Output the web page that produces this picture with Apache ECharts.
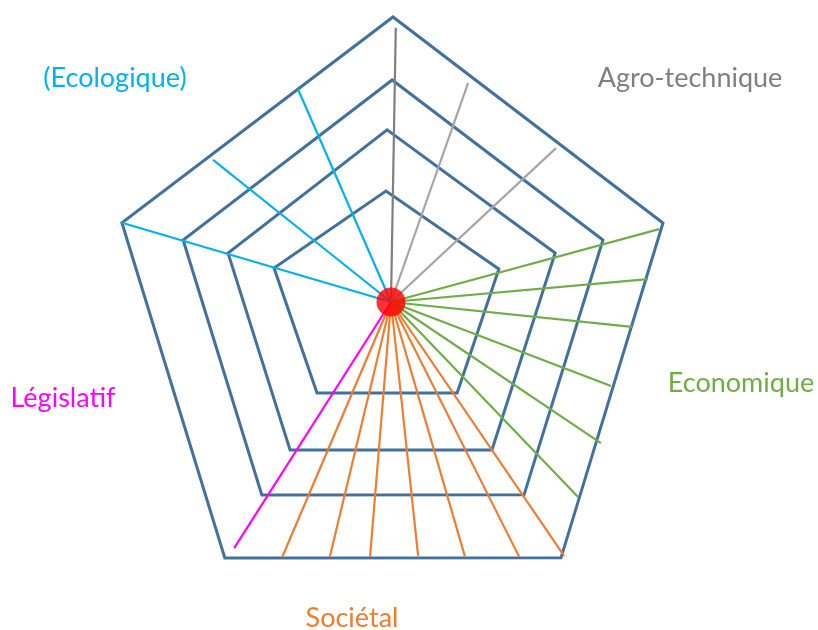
<!DOCTYPE html>
<html>
<head>
<meta charset="utf-8">
<script src="https://cdn.jsdelivr.net/npm/echarts@6/dist/echarts.min.js"></script>
<style>
  html, body { margin: 0; padding: 0; background: #ffffff; }
  #chart { width: 818px; height: 630px; }
</style>
</head>
<body>
<div id="chart"></div>
<script>
// Every point is [radius, angle]: radius in scale units, angle in degrees clockwise from the top.
const level1 = [[37.0, 357.4], [37.6, 73.0], [37.5, 144.0], [39.1, 219.1], [40.6, 286.2]];
const level2 = [[57.4, 358.7], [57.1, 73.4], [59.7, 145.7], [59.7, 214.3], [56.7, 286.7]];
const level3 = [[74.0, 0.3], [73.6, 73.7], [78.1, 145.4], [77.4, 213.8], [72.3, 286.6]];
const level4 = [[95.0, 0.4], [94.4, 73.8], [102.4, 146.4], [101.7, 213.0], [93.5, 286.4]];

const dimensions = ['(Ecologique)', 'Agro-technique', 'Economique', 'Sociétal', 'Législatif'];

const ecologiqueAngles = [336.4, 308.6, 286.4];
const ecologiqueLengths = [77.5, 75.9, 93.5];
const agroAngles = [1.0, 19.4, 47.0];
const agroLengths = [91.4, 77.4, 75.2];
const economiqueAngles = [74.8, 84.9, 95.9, 110.9, 123.9, 136.2];
const economiqueLengths = [92.6, 86.0, 80.8, 78.5, 84.3, 90.1];
const societalAngles = [203.1, 193.5, 184.7, 173.9, 163.8, 153.3, 145.7];
const societalLengths = [92.4, 87.4, 85.3, 85.1, 88.2, 95.1, 102.4];
const legislatifAngles = [212.5];
const legislatifLengths = [97.3];

const ringColor = '#41719c';
const palette = {
  ecologique: '#00b0f0',
  agroDark: '#7f7f7f',
  agro: '#a5a5a5',
  economique: '#70ad47',
  societal: '#ed7d31',
  legislatif: '#ff00ff'
};

const series = [];

// Level polygons (closed, with one extra segment so the first corner is joined too)
[level1, level2, level3, level4].forEach(function (ring, i) {
  const pts = ring.concat([ring[0], ring[1]]);
  series.push({
    type: 'line',
    name: 'niveau' + (i + 1),
    coordinateSystem: 'polar',
    data: pts,
    symbol: 'none',
    clip: false,
    silent: true,
    z: 2,
    lineStyle: { color: ringColor, width: 3, join: 'miter' }
  });
});

// One straight spoke from the centre per item
function addSpokes(angles, lengths, colorFor) {
  angles.forEach(function (a, i) {
    series.push({
      type: 'line',
      coordinateSystem: 'polar',
      data: [[0, a], [lengths[i], a]],
      symbol: 'none',
      clip: false,
      silent: true,
      z: 3,
      lineStyle: { color: colorFor(i), width: 2.2 }
    });
  });
}
addSpokes(ecologiqueAngles, ecologiqueLengths, function () { return palette.ecologique; });
addSpokes(agroAngles, agroLengths, function (i) { return i === 0 ? palette.agroDark : palette.agro; });
addSpokes(economiqueAngles, economiqueLengths, function () { return palette.economique; });
addSpokes(societalAngles, societalLengths, function () { return palette.societal; });
addSpokes(legislatifAngles, legislatifLengths, function () { return palette.legislatif; });

// Red hub at the origin
series.push({
  type: 'scatter',
  coordinateSystem: 'polar',
  data: [[0, 0]],
  symbol: 'circle',
  symbolSize: 29,
  silent: true,
  z: 5,
  itemStyle: { color: '#ff0000' }
});

const labelFont = 'Lato, "Open Sans", sans-serif';
function label(text, x, y, color) {
  return {
    type: 'text',
    x: x, y: y,
    style: {
      text: text,
      fill: color,
      font: '27px ' + labelFont,
      textAlign: 'center',
      textVerticalAlign: 'middle'
    }
  };
}

const option = {
  animation: false,
  backgroundColor: '#ffffff',
  // 110 scale units span 330 px, so every part of the outer level stays inside the polar area
  polar: { center: [391, 302], radius: 330 },
  angleAxis: {
    type: 'value', min: 0, max: 360, interval: 90,
    startAngle: 90, clockwise: true,
    axisLine: { show: false }, axisTick: { show: false },
    axisLabel: { show: false }, splitLine: { show: false }
  },
  radiusAxis: {
    type: 'value', min: 0, max: 110,
    axisLine: { show: false }, axisTick: { show: false },
    axisLabel: { show: false }, splitLine: { show: false }
  },
  graphic: [
    label(dimensions[0], 115, 78, palette.ecologique),
    label(dimensions[1], 690, 78, palette.agroDark),
    label(dimensions[2], 741, 383, palette.economique),
    label(dimensions[3], 352, 618, palette.societal),
    label(dimensions[4], 63, 398, palette.legislatif)
  ],
  series: series
};

const chart = echarts.init(document.getElementById('chart'), null, { renderer: 'canvas' });
chart.setOption(option);
</script>
</body>
</html>
